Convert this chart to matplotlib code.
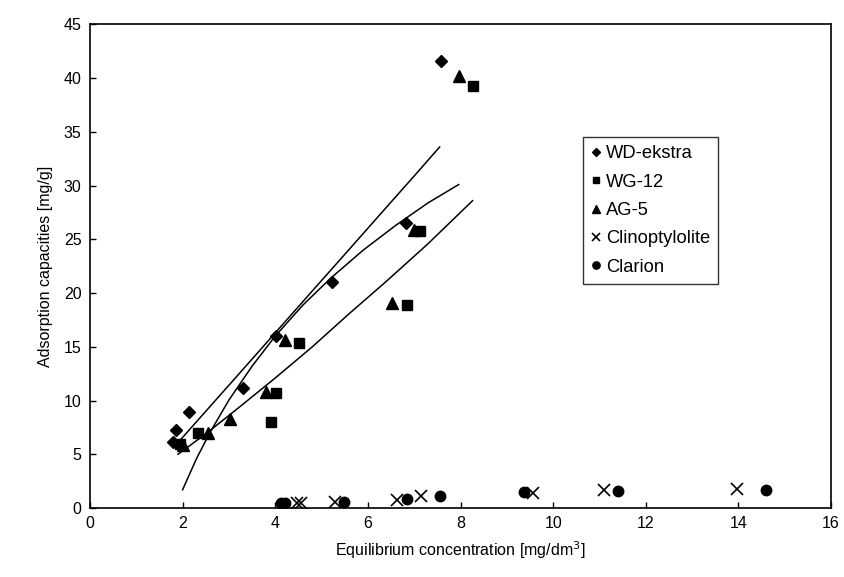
import matplotlib.pyplot as plt

plt.rcParams['font.family'] = ['Liberation Sans', 'DejaVu Sans']

# measured points
wd_x = [1.8, 1.85, 2.13, 3.3, 4.02, 5.22, 6.83, 7.57]
wd_y = [6.1, 7.3, 8.9, 11.2, 16.0, 21.0, 26.5, 41.6]
wg_x = [1.95, 2.33, 3.9, 4.02, 4.52, 6.85, 7.13, 8.26]
wg_y = [6.0, 7.0, 8.0, 10.7, 15.4, 18.9, 25.8, 39.3]
ag_x = [2.0, 2.54, 3.02, 3.8, 4.2, 6.52, 7.0, 7.96]
ag_y = [5.9, 7.0, 8.3, 10.8, 15.6, 19.1, 25.9, 40.2]
cl_x = [4.46, 4.55, 5.28, 6.63, 7.15, 9.57, 11.1, 13.96]
cl_y = [0.5, 0.5, 0.6, 0.75, 1.1, 1.4, 1.7, 1.75]
ca_x = [4.13, 4.22, 5.48, 6.85, 7.56, 9.37, 11.4, 14.6]
ca_y = [0.5, 0.5, 0.6, 0.8, 1.15, 1.5, 1.6, 1.7]

# fitted curves
t_x = [1.8, 2.5, 3.2, 4.0, 4.8, 5.5, 6.3, 7.0, 7.55]
t_y = [5.6, 9.0, 12.4, 16.3, 20.2, 23.6, 27.5, 30.9, 33.6]
m_x = [2.0, 2.3, 2.6, 3.0, 3.5, 4.0, 4.6, 5.2, 5.9, 6.6, 7.3, 7.96]
m_y = [1.7, 4.6, 7.1, 10.05, 13.2, 16.0, 18.9, 21.4, 24.0, 26.3, 28.4, 30.1]
b_x = [1.9, 2.5, 3.2, 4.0, 4.8, 5.6, 6.4, 7.3, 8.26]
b_y = [5.0, 6.9, 9.3, 12.1, 15.0, 18.1, 21.1, 24.6, 28.6]

fig = plt.figure(figsize=(8.45, 5.77), dpi=100)
ax = fig.add_axes([0.1065, 0.1196, 0.877, 0.838])

for cx, cy in [(t_x, t_y), (m_x, m_y), (b_x, b_y)]:
    ax.plot(cx, cy, color='black', lw=1.1)

ax.plot(wd_x, wd_y, 'D', color='black', ms=6, ls='none', label='WD-ekstra')
ax.plot(wg_x, wg_y, 's', color='black', ms=7, ls='none', label='WG-12')
ax.plot(ag_x, ag_y, '^', color='black', ms=8, ls='none', label='AG-5')
ax.plot(cl_x, cl_y, 'x', color='black', ms=8, mew=1.2, ls='none', label='Clinoptylolite')
ax.plot(ca_x, ca_y, 'o', color='black', ms=7.5, ls='none', label='Clarion')

ax.set_xlim(0, 16)
ax.set_ylim(0, 45)
ax.set_xticks(range(0, 17, 2))
ax.set_yticks(range(0, 46, 5))
ax.tick_params(direction='in', length=4, width=1, labelsize=11.5, pad=6)
for s in ax.spines.values():
    s.set_linewidth(1.2)

ax.set_xlabel('Equilibrium concentration [mg/dm$^3$]', fontsize=11.5, labelpad=6)
ax.set_ylabel('Adsorption capacities [mg/g]', fontsize=11.5, labelpad=8)

leg = ax.legend(loc='upper left', bbox_to_anchor=(0.665, 0.767), fontsize=13.2,
                frameon=True, fancybox=False, edgecolor='black', markerscale=0.7,
                handlelength=0.5, handletextpad=0.3, labelspacing=0.62,
                borderpad=0.45, borderaxespad=0)
leg.get_frame().set_linewidth(1.0)

fig.savefig('out.png', dpi=100)
